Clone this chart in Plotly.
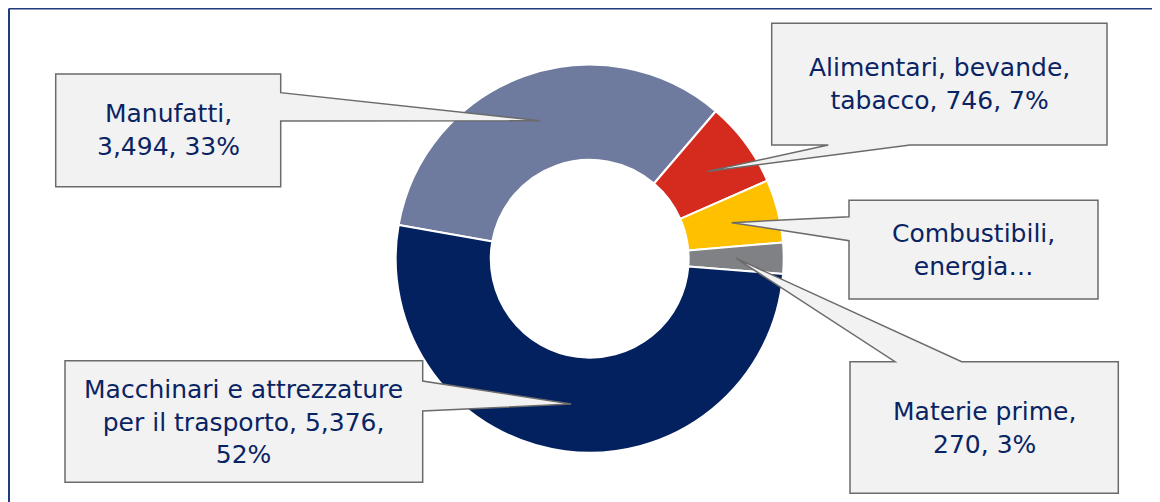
"""Donut chart: composizione per categorie di prodotto."""

import math

import plotly.graph_objects as go

# data, clockwise from the first slice
categories = ['Manufatti', 'Alimentari, bevande, tabacco', 'Combustibili, energia',
              'Materie prime', 'Macchinari e attrezzature per il trasporto']
values = [3494, 746, 549, 270, 5376]
slice_colors = ['#6e7b9f', '#d52b1e', '#ffc000', '#808184', '#03215f']
callout_texts = [
    'Manufatti,<br>3,494, 33%',
    'Alimentari, bevande,<br>tabacco, 746, 7%',
    'Combustibili,<br>energia…',
    'Materie prime,<br>270, 3%',
    'Macchinari e attrezzature<br>per il trasporto, 5,376,<br>52%',
]

# the page puts the figure 8px in from the top-left corner
OFF = 8
W, H = 1160 - OFF, 502 - OFF
CX, CY, R = 589.7 - OFF, 258.7 - OFF, 194.0
HOLE = 0.51
ROTATION = -80

# callout boxes in page pixels: (x0, y0, x1, y1, wedge side, base start, base end)
boxes = [
    (55.7, 74.0, 280.7, 186.7, 'right', 92.7, 121.0),
    (771.7, 23.3, 1107.0, 145.0, 'bottom', 828.3, 910.0),
    (849.0, 200.3, 1098.0, 299.0, 'left', 216.7, 240.7),
    (850.0, 361.7, 1118.3, 493.3, 'top', 895.0, 961.7),
    (65.0, 360.7, 422.7, 482.3, 'right', 381.0, 411.0),
]

TEXT_COLOR = '#0a2463'
FONT = 'DejaVu Sans, Verdana, sans-serif'


def to_paper(x, y):
    return x / W, 1 - y / H


def slice_tips():
    """Mid-ring point of each slice, in figure pixels."""
    total = sum(values)
    tips = []
    cum = 0
    r = R * (1 + HOLE) / 2
    for v in values:
        ang = math.radians(ROTATION + 360 * (cum + v / 2) / total)
        tips.append((CX + r * math.sin(ang), CY - r * math.cos(ang)))
        cum += v
    return tips


def callout_path(box, tip):
    x0, y0, x1, y1, side, b0, b1 = box
    x0, y0, x1, y1 = x0 - OFF, y0 - OFF, x1 - OFF, y1 - OFF
    b0, b1 = b0 - OFF, b1 - OFF
    tl, tr, br, bl = (x0, y0), (x1, y0), (x1, y1), (x0, y1)
    if side == 'top':
        pts = [tl, (b0, y0), tip, (b1, y0), tr, br, bl]
    elif side == 'right':
        pts = [tl, tr, (x1, b0), tip, (x1, b1), br, bl]
    elif side == 'bottom':
        pts = [tl, tr, br, (b1, y1), tip, (b0, y1), bl]
    else:
        pts = [tl, tr, br, bl, (x0, b1), tip, (x0, b0)]
    coords = [to_paper(*p) for p in pts]
    return 'M ' + ' L '.join(f'{a:.5f},{b:.5f}' for a, b in coords) + ' Z'


fig = go.Figure(
    go.Pie(
        labels=categories,
        values=values,
        hole=HOLE,
        sort=False,
        direction='clockwise',
        rotation=ROTATION,
        marker=dict(colors=slice_colors, line=dict(color='white', width=2)),
        textinfo='none',
        hoverinfo='label+value+percent',
        domain=dict(
            x=[(CX - R) / W, (CX + R) / W],
            y=[1 - (CY + R) / H, 1 - (CY - R) / H],
        ),
    )
)

shapes = []
annotations = []
for box, tip, text in zip(boxes, slice_tips(), callout_texts):
    shapes.append(dict(
        type='path', xref='paper', yref='paper', layer='above',
        path=callout_path(box, tip),
        fillcolor='#f2f2f2', line=dict(color='#6b6b6b', width=1.5),
    ))
    mx, my = to_paper((box[0] + box[2]) / 2 - OFF, (box[1] + box[3]) / 2 - OFF)
    annotations.append(dict(
        x=mx, y=my, xref='paper', yref='paper', text=text, showarrow=False,
        xanchor='center', yanchor='middle', align='center',
        font=dict(family=FONT, size=25, color=TEXT_COLOR),
    ))

# chart frame (top and left edges visible)
fx, fy = to_paper(1, 0.5)
shapes.append(dict(type='line', xref='paper', yref='paper', x0=fx, x1=1, y0=fy, y1=fy,
                   line=dict(color='#1f3c7c', width=2)))
shapes.append(dict(type='line', xref='paper', yref='paper', x0=fx, x1=fx, y0=0, y1=fy,
                   line=dict(color='#1f3c7c', width=2)))

fig.update_layout(
    width=W,
    height=H,
    margin=dict(l=0, r=0, t=0, b=0),
    paper_bgcolor='white',
    plot_bgcolor='white',
    showlegend=False,
    shapes=shapes,
    annotations=annotations,
)

fig.write_html('out.html')
